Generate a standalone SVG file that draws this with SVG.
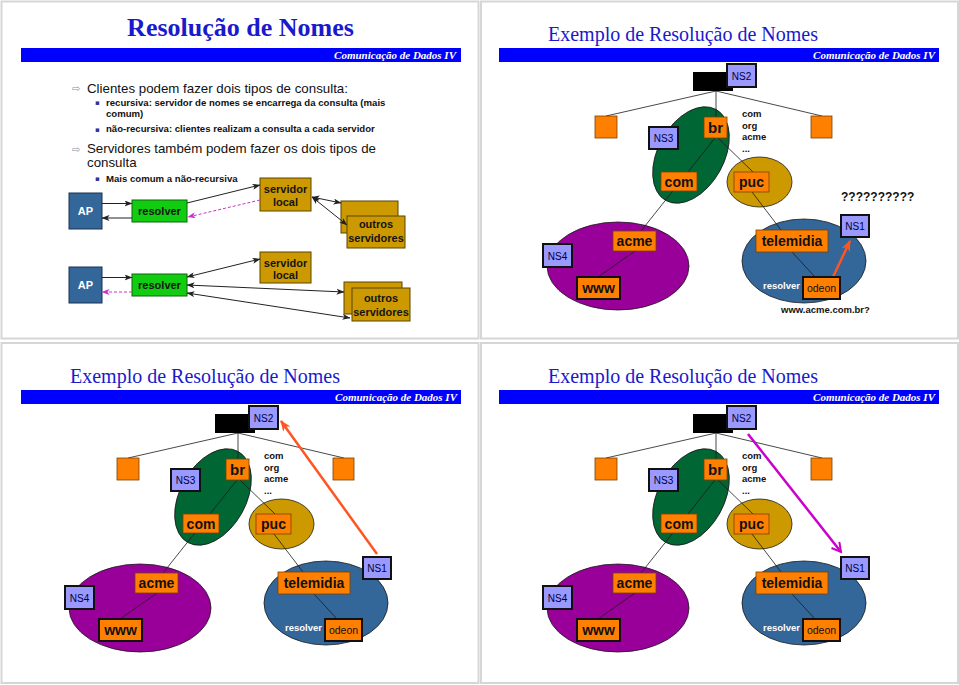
<svg xmlns="http://www.w3.org/2000/svg" width="959" height="685" viewBox="0 0 959 685">
<style>
.frame{fill:#fff;stroke:#d6d6d6;stroke-width:2}
.bar{fill:#0000ff}
.bartxt{font-family:"Liberation Serif",serif;font-weight:bold;font-style:italic;font-size:11px;fill:#fff;text-anchor:end}
.t1{font-family:"Liberation Serif",serif;font-weight:bold;font-size:26px;fill:#1a1acc;text-anchor:middle}
.t2{font-family:"Liberation Serif",serif;font-size:20px;fill:#1a1acc}
.sans{font-family:"Liberation Sans",Arial,sans-serif}
.b1{font-size:13.3px;fill:#111}
.b2{font-size:9.6px;font-weight:bold;fill:#111}
.arr{font-family:"DejaVu Sans",sans-serif;font-size:10px;fill:#8a8aa0}
.sq{font-family:"DejaVu Sans",sans-serif;font-size:7px;fill:#333399}
.ap{fill:#336699;stroke:#1a3350;stroke-width:1}
.res{fill:#11cc11;stroke:#0d660d;stroke-width:1}
.srv{fill:#cc9900;stroke:#5a4400;stroke-width:1}
.apt{font-size:11px;font-weight:bold;fill:#fff;text-anchor:middle}
.bt{font-size:11px;font-weight:bold;fill:#141414;text-anchor:middle}
.c1{stroke:#222;stroke-width:1;fill:none}
.c1d{stroke:#cc33cc;stroke-width:1;fill:none;stroke-dasharray:3 2}
.ell{stroke:#1a1a1a;stroke-width:0.8}
.link{stroke:#1a1a1a;stroke-width:0.8;fill:none}
.ob{fill:#ff8000;stroke:#7a4000;stroke-width:0.8}
.obk{fill:#ff8000;stroke:#111;stroke-width:2}
.ns{fill:#9999ff;stroke:#111;stroke-width:2}
.lbl{font-size:14px;font-weight:bold;fill:#111;text-anchor:middle}
.nst{font-size:10px;fill:#000033;text-anchor:middle}
.odt{font-size:10.5px;fill:#111;text-anchor:middle}
.small{font-size:9.5px;font-weight:bold;fill:#111}
.rw{font-size:9.5px;font-weight:bold;fill:#fff}
</style>
<defs>
<marker id="ah" markerUnits="userSpaceOnUse" markerWidth="8" markerHeight="6" refX="7.5" refY="3" orient="auto-start-reverse"><path d="M0,0 L8,3 L0,6 L2,3 z" fill="#222"/></marker>
<marker id="ahm" markerUnits="userSpaceOnUse" markerWidth="8" markerHeight="6" refX="7.5" refY="3" orient="auto"><path d="M0,0 L8,3 L0,6 L2,3 z" fill="#cc33cc"/></marker>
<marker id="aho" markerUnits="userSpaceOnUse" markerWidth="11" markerHeight="9" refX="10" refY="4.5" orient="auto"><path d="M0,0 L11,4.5 L0,9 L3,4.5 z" fill="#ff5522"/></marker>
<marker id="ahp" markerUnits="userSpaceOnUse" markerWidth="12" markerHeight="12" refX="10" refY="6" orient="auto"><path d="M1,1 L10,6 L1,11" fill="none" stroke="#cc00cc" stroke-width="2"/></marker>
</defs>

<!-- slide frames -->
<rect class="frame" x="1.5" y="1.5" width="477" height="337"/>
<rect class="frame" x="481" y="1.5" width="477" height="337"/>
<rect class="frame" x="1.5" y="343" width="477" height="340"/>
<rect class="frame" x="481" y="343" width="477" height="340"/>

<!-- ================= SLIDE 1 ================= -->
<g id="slide1">
<text class="t1" x="240.5" y="36">Resolução de Nomes</text>
<rect class="bar" x="21" y="48" width="440" height="14"/>
<text class="bartxt" x="456" y="59">Comunicação de Dados IV</text>
<text class="arr" x="72" y="92">⇨</text>
<text class="sans b1" x="87" y="92.5">Clientes podem fazer dois tipos de consulta:</text>
<text class="sq" x="95" y="105">▪</text>
<text class="sans b2" x="106" y="105.7">recursiva: servidor de nomes se encarrega da consulta (mais</text>
<text class="sans b2" x="106" y="117.3">comum)</text>
<text class="sq" x="95" y="132">▪</text>
<text class="sans b2" x="106" y="132.3">não-recursiva: clientes realizam a consulta a cada servidor</text>
<text class="arr" x="72" y="152.5">⇨</text>
<text class="sans b1" x="87" y="153.3">Servidores também podem fazer os dois tipos de</text>
<text class="sans b1" x="87" y="167">consulta</text>
<text class="sq" x="95" y="181">▪</text>
<text class="sans b2" x="106" y="181.5">Mais comum a não-recursiva</text>

<g id="s1-ap1"><rect class="ap" x="69" y="193" width="33" height="36"/><text class="sans apt" x="85.5" y="215">AP</text></g>
<g id="s1-res1"><rect class="res" x="132" y="200" width="55" height="22"/><text class="sans bt" x="159.5" y="215">resolver</text></g>
<g id="s1-srv1"><rect class="srv" x="260" y="178" width="51" height="33"/><text class="sans bt" x="285.5" y="193.3">servidor</text><text class="sans bt" x="285.5" y="205.5">local</text></g>
<g id="s1-out1"><rect class="srv" x="341" y="201" width="57" height="32"/><rect class="srv" x="347" y="216" width="58" height="32"/><text class="sans bt" x="376" y="228.3">outros</text><text class="sans bt" x="376" y="241.7">servidores</text></g>

<g id="s1-ap2"><rect class="ap" x="69" y="267" width="33" height="36"/><text class="sans apt" x="85.5" y="289">AP</text></g>
<g id="s1-res2"><rect class="res" x="132" y="274" width="55" height="22"/><text class="sans bt" x="159.5" y="289">resolver</text></g>
<g id="s1-srv2"><rect class="srv" x="260" y="252" width="51" height="31"/><text class="sans bt" x="285.5" y="266.7">servidor</text><text class="sans bt" x="285.5" y="279.3">local</text></g>
<g id="s1-out2"><rect class="srv" x="344" y="282" width="58" height="32"/><rect class="srv" x="352" y="288" width="58" height="33"/><text class="sans bt" x="381" y="301.7">outros</text><text class="sans bt" x="381" y="316">servidores</text></g>

<g id="s1-connectors">
<path class="c1" d="M102,203.5 L132,203.5" marker-end="url(#ah)"/>
<path class="c1" d="M132,218 L102,218" marker-end="url(#ah)"/>
<path class="c1" d="M187,203 L260,185" marker-end="url(#ah)"/>
<path class="c1d" d="M260,200 L188,217" marker-end="url(#ahm)"/>
<path class="c1" d="M312,197 L341,203" marker-start="url(#ah)" marker-end="url(#ah)"/>
<path class="c1" d="M312,197 L347,225" marker-start="url(#ah)" marker-end="url(#ah)"/>
<path class="c1" d="M102,277.5 L132,277.5" marker-end="url(#ah)"/>
<path class="c1d" d="M132,292 L102,292" marker-end="url(#ahm)"/>
<path class="c1" d="M187,277 L260,259" marker-start="url(#ah)" marker-end="url(#ah)"/>
<path class="c1" d="M187,285 L344,292" marker-start="url(#ah)" marker-end="url(#ah)"/>
<path class="c1" d="M187,293 L350,318" marker-start="url(#ah)" marker-end="url(#ah)"/>
</g>
</g>

<!-- ================= SLIDE 2 ================= -->
<g id="slide2">
<text class="t2" x="548" y="41">Exemplo de Resolução de Nomes</text>
<rect class="bar" x="499" y="48" width="440" height="14"/>
<text class="bartxt" x="935" y="59">Comunicação de Dados IV</text>
<g id="s2-domains">
<ellipse class="ell" cx="691" cy="155" rx="52" ry="33" transform="rotate(-61 691 155)" fill="#006633"/>
<ellipse class="ell" cx="759.5" cy="182" rx="32.5" ry="25" fill="#cc9900"/>
<ellipse class="ell" cx="618" cy="266" rx="71" ry="44" fill="#990099"/>
<ellipse class="ell" cx="804" cy="261" rx="62" ry="42" fill="#336699"/>
</g>
<g id="s2-connectors">
<path class="link" d="M716,91 L606,116 M716,91 L822,116 M716,91 L716,117 M715,138 L641,231 M635,251 L598,277 M718,138 L753,172 M752,192 L781,230 M792,252 L815,277"/>
<path d="M833,277 L850,241" stroke="#ff5522" stroke-width="2.5" fill="none" marker-end="url(#aho)"/>
</g>
<g id="s2-root"><rect x="693" y="72" width="40" height="19" fill="#000"/></g>
<g id="s2-ns2"><rect class="ns" x="727" y="64" width="29" height="23"/><text class="sans nst" x="741.5" y="79.5">NS2</text></g>
<g id="s2-left"><rect class="ob" x="595" y="116" width="22" height="22"/></g>
<g id="s2-right"><rect class="ob" x="811" y="116" width="21" height="22"/></g>
<g id="s2-br"><rect class="ob" x="704" y="117" width="23" height="21"/><text class="sans lbl" x="715.5" y="133" style="font-size:15px">br</text></g>
<g id="s2-ns3"><rect class="ns" x="649" y="127" width="29" height="22"/><text class="sans nst" x="663.5" y="141.8">NS3</text></g>
<g id="s2-com"><rect class="ob" x="661" y="172" width="36" height="19"/><text class="sans lbl" x="679" y="186.5">com</text></g>
<g id="s2-puc"><rect class="ob" x="734" y="172" width="35" height="20"/><text class="sans lbl" x="751.5" y="187">puc</text></g>
<g id="s2-acme"><rect class="ob" x="613" y="231" width="43" height="20"/><text class="sans lbl" x="634.5" y="246">acme</text></g>
<g id="s2-telemidia"><rect class="ob" x="756" y="230" width="72" height="22"/><text class="sans lbl" x="792" y="246">telemidia</text></g>
<g id="s2-ns4"><rect class="ns" x="543" y="244" width="29" height="23"/><text class="sans nst" x="557.5" y="259.5">NS4</text></g>
<g id="s2-www"><rect class="obk" x="577" y="277" width="43" height="22"/><text class="sans lbl" x="598.5" y="293">www</text></g>
<g id="s2-ns1"><rect class="ns" x="841" y="215" width="28" height="22"/><text class="sans nst" x="855" y="229.8">NS1</text></g>
<g id="s2-odeon"><rect class="obk" x="803" y="277" width="37" height="22"/><text class="sans odt" x="821.5" y="292">odeon</text></g>
<text class="sans rw" x="763" y="289">resolver</text>
<text class="sans small" x="742" y="117">com</text>
<text class="sans small" x="742" y="128.5">org</text>
<text class="sans small" x="742" y="140">acme</text>
<text class="sans small" x="742" y="151.5">...</text>
<text class="sans small" x="781" y="313">www.acme.com.br?</text>
<text class="sans" x="841" y="201" style="font-size:12px;font-weight:bold;fill:#111">??????????</text>
</g>

<!-- ================= SLIDE 3 ================= -->
<g id="slide3" transform="translate(-478,342)">
<text class="t2" x="548" y="41">Exemplo de Resolução de Nomes</text>
<rect class="bar" x="499" y="48" width="440" height="14"/>
<text class="bartxt" x="935" y="59">Comunicação de Dados IV</text>
<g id="s3-domains">
<ellipse class="ell" cx="691" cy="155" rx="52" ry="33" transform="rotate(-61 691 155)" fill="#006633"/>
<ellipse class="ell" cx="759.5" cy="182" rx="32.5" ry="25" fill="#cc9900"/>
<ellipse class="ell" cx="618" cy="266" rx="71" ry="44" fill="#990099"/>
<ellipse class="ell" cx="804" cy="261" rx="62" ry="42" fill="#336699"/>
</g>
<g id="s3-connectors">
<path class="link" d="M716,91 L606,116 M716,91 L822,116 M716,91 L716,117 M715,138 L641,231 M635,251 L598,277 M718,138 L753,172 M752,192 L781,230 M792,252 L815,277"/>
<path d="M855,212 L759,79" stroke="#ff5522" stroke-width="2.5" fill="none" marker-end="url(#aho)"/>
</g>
<g id="s3-root"><rect x="693" y="72" width="40" height="19" fill="#000"/></g>
<g id="s3-ns2"><rect class="ns" x="727" y="64" width="29" height="23"/><text class="sans nst" x="741.5" y="79.5">NS2</text></g>
<g id="s3-left"><rect class="ob" x="595" y="116" width="22" height="22"/></g>
<g id="s3-right"><rect class="ob" x="811" y="116" width="21" height="22"/></g>
<g id="s3-br"><rect class="ob" x="704" y="117" width="23" height="21"/><text class="sans lbl" x="715.5" y="133" style="font-size:15px">br</text></g>
<g id="s3-ns3"><rect class="ns" x="649" y="127" width="29" height="22"/><text class="sans nst" x="663.5" y="141.8">NS3</text></g>
<g id="s3-com"><rect class="ob" x="661" y="172" width="36" height="19"/><text class="sans lbl" x="679" y="186.5">com</text></g>
<g id="s3-puc"><rect class="ob" x="734" y="172" width="35" height="20"/><text class="sans lbl" x="751.5" y="187">puc</text></g>
<g id="s3-acme"><rect class="ob" x="613" y="231" width="43" height="20"/><text class="sans lbl" x="634.5" y="246">acme</text></g>
<g id="s3-telemidia"><rect class="ob" x="756" y="230" width="72" height="22"/><text class="sans lbl" x="792" y="246">telemidia</text></g>
<g id="s3-ns4"><rect class="ns" x="543" y="244" width="29" height="23"/><text class="sans nst" x="557.5" y="259.5">NS4</text></g>
<g id="s3-www"><rect class="obk" x="577" y="277" width="43" height="22"/><text class="sans lbl" x="598.5" y="293">www</text></g>
<g id="s3-ns1"><rect class="ns" x="841" y="215" width="28" height="22"/><text class="sans nst" x="855" y="229.8">NS1</text></g>
<g id="s3-odeon"><rect class="obk" x="803" y="277" width="37" height="22"/><text class="sans odt" x="821.5" y="292">odeon</text></g>
<text class="sans rw" x="763" y="289">resolver</text>
<text class="sans small" x="742" y="117">com</text>
<text class="sans small" x="742" y="128.5">org</text>
<text class="sans small" x="742" y="140">acme</text>
<text class="sans small" x="742" y="151.5">...</text>
</g>

<!-- ================= SLIDE 4 ================= -->
<g id="slide4" transform="translate(0,342)">
<text class="t2" x="548" y="41">Exemplo de Resolução de Nomes</text>
<rect class="bar" x="499" y="48" width="440" height="14"/>
<text class="bartxt" x="935" y="59">Comunicação de Dados IV</text>
<g id="s4-domains">
<ellipse class="ell" cx="691" cy="155" rx="52" ry="33" transform="rotate(-61 691 155)" fill="#006633"/>
<ellipse class="ell" cx="759.5" cy="182" rx="32.5" ry="25" fill="#cc9900"/>
<ellipse class="ell" cx="618" cy="266" rx="71" ry="44" fill="#990099"/>
<ellipse class="ell" cx="804" cy="261" rx="62" ry="42" fill="#336699"/>
</g>
<g id="s4-connectors">
<path class="link" d="M716,91 L606,116 M716,91 L822,116 M716,91 L716,117 M715,138 L641,231 M635,251 L598,277 M718,138 L753,172 M752,192 L781,230 M792,252 L815,277"/>
<path d="M748,92 L841,210" stroke="#cc00cc" stroke-width="2.5" fill="none" marker-end="url(#ahp)"/>
</g>
<g id="s4-root"><rect x="693" y="72" width="40" height="19" fill="#000"/></g>
<g id="s4-ns2"><rect class="ns" x="727" y="64" width="29" height="23"/><text class="sans nst" x="741.5" y="79.5">NS2</text></g>
<g id="s4-left"><rect class="ob" x="595" y="116" width="22" height="22"/></g>
<g id="s4-right"><rect class="ob" x="811" y="116" width="21" height="22"/></g>
<g id="s4-br"><rect class="ob" x="704" y="117" width="23" height="21"/><text class="sans lbl" x="715.5" y="133" style="font-size:15px">br</text></g>
<g id="s4-ns3"><rect class="ns" x="649" y="127" width="29" height="22"/><text class="sans nst" x="663.5" y="141.8">NS3</text></g>
<g id="s4-com"><rect class="ob" x="661" y="172" width="36" height="19"/><text class="sans lbl" x="679" y="186.5">com</text></g>
<g id="s4-puc"><rect class="ob" x="734" y="172" width="35" height="20"/><text class="sans lbl" x="751.5" y="187">puc</text></g>
<g id="s4-acme"><rect class="ob" x="613" y="231" width="43" height="20"/><text class="sans lbl" x="634.5" y="246">acme</text></g>
<g id="s4-telemidia"><rect class="ob" x="756" y="230" width="72" height="22"/><text class="sans lbl" x="792" y="246">telemidia</text></g>
<g id="s4-ns4"><rect class="ns" x="543" y="244" width="29" height="23"/><text class="sans nst" x="557.5" y="259.5">NS4</text></g>
<g id="s4-www"><rect class="obk" x="577" y="277" width="43" height="22"/><text class="sans lbl" x="598.5" y="293">www</text></g>
<g id="s4-ns1"><rect class="ns" x="841" y="215" width="28" height="22"/><text class="sans nst" x="855" y="229.8">NS1</text></g>
<g id="s4-odeon"><rect class="obk" x="803" y="277" width="37" height="22"/><text class="sans odt" x="821.5" y="292">odeon</text></g>
<text class="sans rw" x="763" y="289">resolver</text>
<text class="sans small" x="742" y="117">com</text>
<text class="sans small" x="742" y="128.5">org</text>
<text class="sans small" x="742" y="140">acme</text>
<text class="sans small" x="742" y="151.5">...</text>
</g>
</svg>
